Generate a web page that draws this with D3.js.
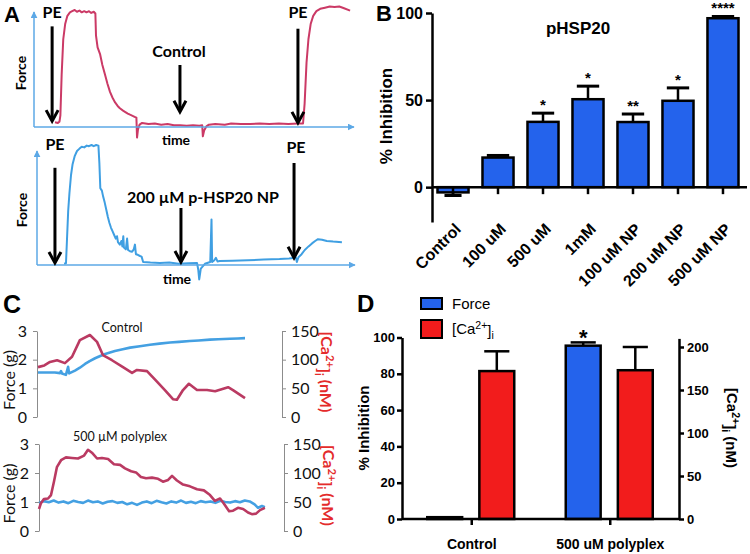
<!DOCTYPE html>
<html><head><meta charset="utf-8">
<script src="https://cdn.jsdelivr.net/npm/d3@7"></script>
<style>body{margin:0;background:#fff}svg{display:block}</style>
</head><body>
<svg id="c" width="750" height="554"></svg>
<script>
// ---------------- DATA ----------------
// Panel A: force traces (time, force in arbitrary units, 100 = plateau)
const aTopTrace = [[6.6,4],[7.5,3.5],[8.0,4.5],[8.3,10],[8.7,45],[9.2,75],[9.8,88],[10.5,95],[11.3,98],[12.0,99],[12.8,100],[13.5,98.5],[14.3,99.5],[15.0,98],[15.8,99],[16.5,98],[17.3,99],[18.0,97.5],[18.8,98.5],[19.3,97],[19.5,78],[20.0,68],[20.8,62],[21.5,53],[22.3,45],[23.1,37],[23.9,30],[24.7,25],[25.5,21],[26.3,18],[27.0,16],[28.0,14],[28.6,13],[29.5,11.5],[30.2,10.5],[31.0,9.5],[31.8,8.5],[32.2,8],[32.4,-9],[32.7,-2],[33.2,2],[34,3.5],[36,2.5],[38,3],[40,2],[42,2.5],[44,1.5],[46,1.5],[48,1],[50,1.5],[52,1],[52.9,1.5],[53.1,-8],[53.5,-3],[54.2,0.5],[55,2],[57,2.5],[60,2],[62,3],[65,2.5],[68,2.5],[71,3],[74,2.5],[77,3],[80,2.5],[83,3],[84.6,3],[85.1,20],[85.7,55],[86.3,75],[87.0,88],[87.8,95],[88.8,99],[90,101],[91.5,102],[93,103],[94.5,102.5],[96,103],[97.5,101.5],[99.4,99.5]];
const aBotTrace = [[8.6,1],[9.2,1.5],[9.5,20],[9.9,45],[10.3,60],[10.8,75],[11.3,84],[12.0,91],[12.7,95],[13.5,97],[14.2,98.5],[15.0,98],[15.8,99.5],[16.5,99],[17.3,100],[18.0,99],[18.8,100],[19.5,99.5],[19.8,85],[20.1,64],[20.6,62],[21.0,57],[21.5,52],[22.0,46],[22.5,40],[23.0,35],[23.5,31],[24.0,28],[24.5,25],[25.0,22],[25.4,24],[25.7,19],[26.3,17],[26.8,20],[27.1,15.5],[27.4,24],[27.6,14.5],[28.2,13],[28.6,22],[28.9,12.5],[29.5,11.5],[30.2,11],[30.7,13],[31.1,17],[31.4,9],[32.0,8.5],[32.7,7.5],[33.2,7],[33.7,2.5],[36,2],[39,1.7],[42,2],[45,1],[48,1.5],[50.8,1.7],[51.2,-4],[51.5,-12],[52.0,-3],[53.3,1],[55.0,2.5],[55.4,38],[55.6,2.5],[56.3,4],[56.8,6],[57.3,3],[58,3.3],[62,3.5],[67,4],[72,4.5],[77,5],[80,5.5],[82.2,6],[82.5,2.5],[83.0,6.5],[84,9],[85,12.5],[86.2,15.5],[87.3,18],[88.3,20],[89.2,21.5],[90.5,21],[92,20],[94,19.5],[96.8,19]];
// annotations: time, arrow top, arrow bottom, label, label time, label force
const aTopNotes = [
  {t:5.7, top:86, bot:5, label:'PE', lt:5.7, ly:93},
  {t:45.9, top:53, bot:13, label:'Control', lt:45.6, ly:60},
  {t:83, top:84, bot:3.5, label:'PE', lt:83, ly:93}
];
const aBotNotes = [
  {t:5.7, top:81, bot:1.7, label:'PE', lt:5.7, ly:96},
  {t:45.7, top:47.5, bot:2.5, label:'200 \u00b5M p-HSP20 NP', lt:52.7, ly:52},
  {t:81.6, top:85, bot:6, label:'PE', lt:82.2, ly:93}
];

// Panel B
const bCats = ['Control','100 uM','500 uM','1mM','100 uM NP','200 uM NP','500 uM NP'];
const bVals = [-3, 17, 37.5, 50.5, 37.4, 49.6, 97];
const bErrEnd = [-4.8, 18.2, 42.5, 58, 42, 57, 98];
const bStars = ['', '', '*', '*', '**', '*', '****'];
const bTicks = [0, 50, 100];

// Panel C (time, force g) and (time, [Ca2+]i nM)
const cTopForce = [[0.4,1.55],[4,1.55],[7.3,1.55],[9.4,1.53],[9.8,1.6],[10.2,1.52],[11.8,1.47],[12.7,1.75],[13.1,1.52],[15.5,1.62],[17.5,1.72],[19.6,1.85],[21.5,1.95],[23.7,2.05],[25.8,2.13],[27.8,2.2],[29.8,2.25],[31.8,2.3],[35,2.36],[38,2.42],[42,2.47],[46.1,2.52],[50,2.56],[54.3,2.6],[58,2.62],[62.4,2.65],[66,2.67],[70.6,2.7],[74,2.71],[78.8,2.73],[82,2.74],[84.9,2.75]];
const cTopCa = [[0.4,87],[3,90],[5.3,96],[8.2,99],[11.4,94],[14.3,105],[17.5,134],[21.6,143],[24.5,131],[26.9,108],[30.6,99],[35.1,87],[38.8,77],[40.8,82],[44.9,80],[48.2,65],[52.2,47],[55.5,31],[57.1,30],[59.6,47],[62,58],[65.3,47],[69.4,47],[72.7,45],[78,52],[80,47],[84.9,33]];
const cBotForce = [[0,0.97],[2,1.03],[4,0.99],[6,1.05],[8,0.98],[10,1.02],[12,0.96],[14,1.04],[16,1.0],[18,0.97],[20,1.05],[22,0.99],[24,1.02],[26,0.95],[28,1.01],[30,1.03],[32,0.97],[34,1.0],[36,0.92],[38,0.97],[40,0.9],[42,0.98],[44,1.02],[46,0.96],[48,1.04],[50,0.99],[52,0.95],[54,1.02],[56,0.98],[58,1.05],[60,0.97],[62,1.01],[64,0.96],[66,1.03],[68,0.99],[70,1.02],[72,0.97],[74,1.04],[76,1.0],[78,0.98],[80,1.03],[82,0.99],[84,1.05],[86,1.02],[88,0.92],[89.4,0.8],[91,0.86],[92.2,0.82]];
const cBotCa = [[0,38],[0.8,48],[2,55],[3.7,56],[4.9,62],[6.1,85],[7.3,110],[9,122],[11,127],[13.5,126],[15.9,125],[18.4,130],[20,140],[21.6,135],[23.7,125],[25.7,126],[28.2,124],[30.6,115],[33.1,114],[35.1,108],[37.6,103],[39.6,101],[41.6,93],[43.7,91],[46.1,92],[48.6,90],[50.6,85],[52.7,88],[54.3,95],[56.3,87],[58.8,80],[61.6,77],[64.5,72],[67.3,70],[69.8,62],[71.8,52],[73.9,56],[75.5,47],[77.6,34],[79.2,35],[81.2,40],[83.3,38],[85.3,32],[86.9,29],[88.6,30],[90.2,36],[92.2,40]];
const cLeftTicks = [0, 1, 2, 3];
const cRightTicks = [0, 50, 100, 150];

// Panel D
const dCats = ['Control', '500 uM polyplex'];
const dSeries = ['Force', 'Ca'];
const dForce = [1, 95.5];
const dForceErrEnd = [1, 97.3];
const dCa = [172, 173];
const dCaErrEnd = [195, 200];
const dStars = ['', '*'];
const dLeftTicks = [0, 20, 40, 60, 80, 100];
const dRightTicks = [0, 50, 100, 150, 200];

// ---------------- DRAW ----------------
const svg = d3.select('#c');
const FA = 'Lato, "Open Sans", sans-serif';
const FB = '"Liberation Sans", Arial, sans-serif';
const RED_A = '#cb3a66', BLUE_A = '#3f9fe2', AX_A = '#5ca8e6';
const BLUE_B = '#2463ec', RED_D = '#f21c1c';
const RED_C = '#ba3a62', BLUE_C = '#44a0e2', CA_TXT = '#e42b2b';

const defs = svg.append('defs');
defs.append('marker').attr('id','arrA').attr('viewBox','0 0 10 10').attr('refX',9).attr('refY',5)
  .attr('markerWidth',7).attr('markerHeight',7).attr('markerUnits','userSpaceOnUse').attr('orient','auto')
  .append('path').attr('d','M0,0 L10,5 L0,10 Z').attr('fill',AX_A);

function letter(t, x, y, size){
  svg.append('text').attr('x',x).attr('y',y).text(t)
    .attr('font-family',FB).attr('font-weight','bold').attr('font-size',size).attr('fill','#000');
}
letter('A', 4, 22, 22);
letter('B', 376, 21, 22);
letter('C', 3, 313, 25);
letter('D', 357, 312, 24);

// ---- Panel A ----
function panelA(trace, notes, color, box){
  const x = d3.scaleLinear().domain([0,100]).range([box.x0, box.x1]);
  const y = d3.scaleLinear().domain([0,100]).range([box.y0, box.yTop]);
  const g = svg.append('g');
  g.append('path').datum(trace)
    .attr('d', d3.line().x(d=>x(d[0])).y(d=>y(d[1])))
    .attr('fill','none').attr('stroke',color).attr('stroke-width',2).attr('stroke-linejoin','round');
  g.append('line').attr('x1',box.x0).attr('y1',box.y0).attr('x2',box.xAx).attr('y2',box.y0)
    .attr('stroke',AX_A).attr('stroke-width',1.5).attr('marker-end','url(#arrA)');
  g.append('line').attr('x1',box.x0).attr('y1',box.y0).attr('x2',box.x0).attr('y2',box.yAx)
    .attr('stroke',AX_A).attr('stroke-width',1.5).attr('marker-end','url(#arrA)');
  notes.forEach(n => {
    const ax = x(n.t), yt = y(n.top), yb = y(n.bot);
    g.append('line').attr('x1',ax).attr('x2',ax).attr('y1',yt).attr('y2',yb-1)
      .attr('stroke','#000').attr('stroke-width',3);
    g.append('path').attr('d',`M${ax-6},${yb-11} L${ax},${yb} L${ax+6},${yb-11}`)
      .attr('fill','none').attr('stroke','#000').attr('stroke-width',3);
    g.append('text').attr('x',x(n.lt)).attr('y',y(n.ly)).attr('text-anchor','middle').text(n.label)
      .attr('font-family',FA).attr('font-weight','bold').attr('font-size',16);
  });
  g.append('text').attr('transform',`translate(${box.fx},${box.fy}) rotate(-90)`).attr('text-anchor','middle')
    .text('Force').attr('font-family',FA).attr('font-weight','bold').attr('font-size',14);
  g.append('text').attr('x',box.tx).attr('y',box.ty).attr('text-anchor','middle')
    .text('time').attr('font-family',FA).attr('font-weight','bold').attr('font-size',14);
}
panelA(aTopTrace, aTopNotes, RED_A, {x0:34,x1:352,xAx:354,y0:127,yTop:10,yAx:12,fx:26,fy:73,tx:176,ty:145});
panelA(aBotTrace, aBotNotes, BLUE_A, {x0:37,x1:352,xAx:355,y0:265,yTop:145,yAx:151,fx:27,fy:210,tx:177,ty:284});

// ---- Panel B ----
(function(){
  const x = d3.scaleBand().domain(bCats).range([432,744]).paddingInner(0.31).paddingOuter(0.122);
  const y = d3.scaleLinear().domain([-20,100]).range([222,13]);
  const g = svg.append('g');
  const bw = x.bandwidth();
  g.selectAll('rect.bar').data(bCats).join('rect').attr('class','bar')
    .attr('x', d=>x(d)).attr('width', bw)
    .attr('y', (d,i)=>Math.min(y(bVals[i]), y(0)))
    .attr('height', (d,i)=>Math.abs(y(bVals[i])-y(0)))
    .attr('fill', BLUE_B).attr('stroke','#000').attr('stroke-width',2.5);
  bCats.forEach((c,i)=>{
    const cx = x(c)+bw/2, cw = (i===0? 0.55: 0.72)*bw;
    g.append('line').attr('x1',cx).attr('x2',cx).attr('y1',y(bVals[i])).attr('y2',y(bErrEnd[i]))
      .attr('stroke','#000').attr('stroke-width',2.5);
    g.append('line').attr('x1',cx-cw/2).attr('x2',cx+cw/2).attr('y1',y(bErrEnd[i])).attr('y2',y(bErrEnd[i]))
      .attr('stroke','#000').attr('stroke-width',3);
    if (bStars[i]) g.append('text').attr('x',cx).attr('y',y(bErrEnd[i])-3).attr('text-anchor','middle')
      .text(bStars[i]).attr('font-family',FB).attr('font-weight','bold').attr('font-size',15);
  });
  const ya = g.append('g').attr('transform','translate(432,0)')
    .call(d3.axisLeft(y).tickValues(bTicks).tickSize(6).tickSizeOuter(0).tickPadding(3));
  ya.select('.domain').attr('stroke-width',2.5);
  ya.selectAll('.tick line').attr('stroke-width',2.5);
  ya.selectAll('text').attr('font-family',FB).attr('font-weight','bold').attr('font-size',16).attr('fill','#000');
  const xa = g.append('g').attr('transform',`translate(0,${y(0)})`)
    .call(d3.axisBottom(x).tickSize(7).tickSizeOuter(0));
  xa.select('.domain').attr('d',`M432,0H747`).attr('stroke-width',2.5);
  xa.selectAll('.tick line').attr('stroke-width',2.5);
  xa.selectAll('text').attr('y',0).attr('dy',0).attr('x',0)
    .attr('transform','translate(9,43) rotate(-45)').style('text-anchor','end')
    .attr('font-family',FB).attr('font-weight','bold').attr('font-size',16).attr('fill','#000');
  g.append('text').attr('transform','translate(392,116) rotate(-90)').attr('text-anchor','middle')
    .text('% Inhibition').attr('font-family',FB).attr('font-weight','bold').attr('font-size',17);
  g.append('text').attr('x',578).attr('y',34).attr('text-anchor','middle')
    .text('pHSP20').attr('font-family',FB).attr('font-weight','bold').attr('font-size',17);
})();

// ---- Panel C ----
function caLabel(sel, fill, family, size){
  sel.attr('font-family', family).attr('font-size',size).attr('font-weight','bold').attr('fill',fill);
  sel.append('tspan').text('[Ca');
  sel.append('tspan').text('2+').attr('dy','-0.45em').attr('font-size','0.7em');
  sel.append('tspan').text(']').attr('dy','0.45em');
  sel.append('tspan').text('i').attr('dy','0.3em').attr('font-size','0.7em');
  sel.append('tspan').text(' (nM)').attr('dy','-0.3em');
}
function panelC(forceData, caData, box, title){
  const x = d3.scaleLinear().domain([0,100]).range([box.x0, box.xR]);
  const yL = d3.scaleLinear().domain([0,3]).range([box.y0, box.y3]);
  const yR = d3.scaleLinear().domain([0,150]).range([box.y0, box.y3]);
  const g = svg.append('g');
  const la = g.append('g').attr('transform',`translate(${box.x0},0)`)
    .call(d3.axisLeft(yL).tickValues(cLeftTicks).tickFormat(d3.format('d')).tickSize(4).tickSizeOuter(0).tickPadding(6));
  const ra = g.append('g').attr('transform',`translate(${box.xR},0)`)
    .call(d3.axisRight(yR).tickValues(cRightTicks).tickFormat(d3.format('d')).tickSize(4).tickSizeOuter(0).tickPadding(5));
  [la, ra].forEach(a=>{
    a.select('.domain').attr('stroke','#8c8c8c').attr('stroke-width',1);
    a.selectAll('.tick line').attr('stroke','#8c8c8c');
    a.selectAll('text').attr('font-family',FA).attr('font-size',16).attr('fill','#111');
  });
  g.append('path').datum(forceData).attr('d', d3.line().x(d=>x(d[0])).y(d=>yL(d[1])))
    .attr('fill','none').attr('stroke',BLUE_C).attr('stroke-width',2.6).attr('stroke-linejoin','round');
  g.append('path').datum(caData).attr('d', d3.line().x(d=>x(d[0])).y(d=>yR(d[1])))
    .attr('fill','none').attr('stroke',RED_C).attr('stroke-width',2.6).attr('stroke-linejoin','round');
  g.append('text').attr('x',box.titleX).attr('y',box.titleY).attr('text-anchor','middle').text(title)
    .attr('font-family',FA).attr('font-size',12.5).attr('fill','#111');
  g.append('text').attr('transform',`translate(${box.fx},${(box.y0+box.y3)/2+6}) rotate(-90)`).attr('text-anchor','middle')
    .text('Force (g)').attr('font-family',FA).attr('font-size',16).attr('fill','#111');
  caLabel(g.append('text').attr('transform',`translate(${box.cx},${(box.y0+box.y3)/2-2}) rotate(90)`).attr('text-anchor','middle'),
    CA_TXT, FA, 16);
}
panelC(cTopForce, cTopCa, {x0:37,xR:282,y0:417,y3:331,titleX:122,titleY:332,fx:15,cx:321}, 'Control');
panelC(cBotForce, cBotCa, {x0:39,xR:284,y0:531,y3:444,titleX:120,titleY:441,fx:15,cx:323}, '500 \u00b5M polyplex');

// ---- Panel D ----
(function(){
  const xg = d3.scalePoint().domain(dCats).range([402,679]).padding(0.5);
  const xs = d3.scaleBand().domain(dSeries).range([-44,43]).paddingInner(0.33);
  const yL = d3.scaleLinear().domain([0,100]).range([519,337.5]);
  const yR = d3.scaleLinear().domain([0,210]).range([519,338.4]);
  const g = svg.append('g');
  const bw = xs.bandwidth();
  const series = [
    {key:'Force', vals:dForce, err:dForceErrEnd, y:yL, fill:BLUE_B},
    {key:'Ca', vals:dCa, err:dCaErrEnd, y:yR, fill:RED_D}
  ];
  series.forEach(s=>{
    dCats.forEach((c,i)=>{
      const bx = xg(c)+xs(s.key), cx = bx+bw/2;
      const ey = s.y(s.err[i]);
      if (s.err[i] > s.vals[i]) {
        g.append('line').attr('x1',cx).attr('x2',cx).attr('y1',s.y(s.vals[i])).attr('y2',ey)
          .attr('stroke','#000').attr('stroke-width',2.5);
        g.append('line').attr('x1',cx-bw*0.36).attr('x2',cx+bw*0.36).attr('y1',ey).attr('y2',ey)
          .attr('stroke','#000').attr('stroke-width',2.5);
      }
      g.append('rect').attr('x',bx).attr('width',bw).attr('y',s.y(s.vals[i])).attr('height',s.y(0)-s.y(s.vals[i]))
        .attr('fill',s.fill).attr('stroke','#000').attr('stroke-width',2.5);
      if (s.key==='Force' && dStars[i]) g.append('text').attr('x',cx).attr('y',ey+3).attr('text-anchor','middle')
        .text(dStars[i]).attr('font-family',FB).attr('font-weight','bold').attr('font-size',22);
    });
  });
  const la = g.append('g').attr('transform','translate(402,0)')
    .call(d3.axisLeft(yL).tickValues(dLeftTicks).tickSize(5).tickSizeOuter(0).tickPadding(2));
  const ra = g.append('g').attr('transform','translate(679,0)')
    .call(d3.axisRight(yR).tickValues(dRightTicks).tickSize(5).tickSizeOuter(0).tickPadding(3));
  [la, ra].forEach(a=>{
    a.select('.domain').attr('stroke-width',2.5);
    a.selectAll('.tick line').attr('stroke-width',2.5);
    a.selectAll('text').attr('font-family',FB).attr('font-weight','bold').attr('font-size',13).attr('fill','#000');
  });
  const xa = g.append('g').attr('transform','translate(0,519)')
    .call(d3.axisBottom(xg).tickSize(6).tickSizeOuter(0).tickPadding(14));
  xa.select('.domain').attr('d','M402,0H679').attr('stroke-width',2.5);
  xa.selectAll('.tick line').attr('stroke-width',2.5);
  xa.selectAll('text').attr('font-family',FB).attr('font-weight','bold').attr('font-size',14).attr('fill','#000');
  g.append('text').attr('transform','translate(369,428) rotate(-90)').attr('text-anchor','middle')
    .text('% Inhibition').attr('font-family',FB).attr('font-weight','bold').attr('font-size',15);
  caLabel(g.append('text').attr('transform','translate(727,428) rotate(90)').attr('text-anchor','middle'), '#000', FB, 15);
  const leg = [{k:'Force', fill:BLUE_B, y:298, h:11}, {k:'Ca', fill:RED_D, y:320, h:18}];
  leg.forEach(l=>{
    g.append('rect').attr('x',421).attr('y',l.y).attr('width',21).attr('height',l.h)
      .attr('fill',l.fill).attr('stroke','#000').attr('stroke-width',2);
  });
  g.append('text').attr('x',452).attr('y',309).text('Force').attr('font-family',FB).attr('font-size',15);
  const ct = g.append('text').attr('x',452).attr('y',334).attr('font-family',FB).attr('font-size',15);
  ct.append('tspan').text('[Ca');
  ct.append('tspan').text('2+').attr('dy','-0.45em').attr('font-size','0.7em');
  ct.append('tspan').text(']').attr('dy','0.45em');
  ct.append('tspan').text('i').attr('dy','0.3em').attr('font-size','0.7em');
})();
</script>
</body></html>
